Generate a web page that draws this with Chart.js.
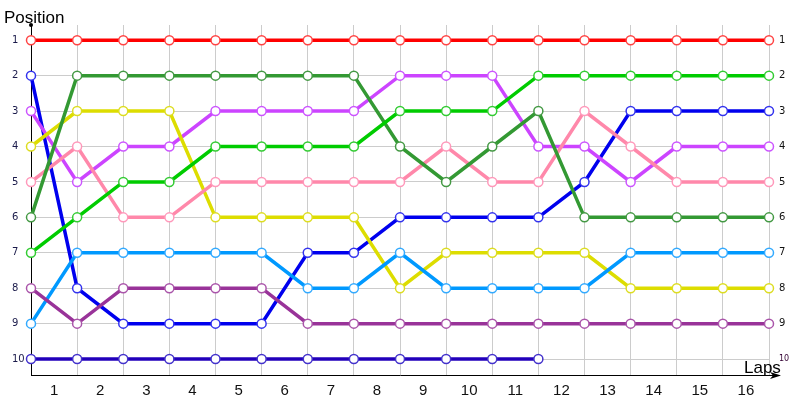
<!DOCTYPE html>
<html>
<head>
<meta charset="utf-8">
<script src="https://cdn.jsdelivr.net/npm/chart.js@4"></script>
<style>
  html, body { margin: 0; padding: 0; background: #fff; }
  #wrap { width: 800px; height: 400px; }
</style>
</head>
<body>
<div id="wrap"><canvas id="chart" width="800" height="400"></canvas></div>
<script>
// points along the x axis (start + 16 laps) and the lap labels between them
const lapPoints = ['0', '1', '2', '3', '4', '5', '6', '7', '8', '9', '10', '11', '12', '13', '14', '15', '16'];
const lapLabels = ['1', '2', '3', '4', '5', '6', '7', '8', '9', '10', '11', '12', '13', '14', '15', '16'];
const positionTicks = [1, 2, 3, 4, 5, 6, 7, 8, 9, 10];

// position of each driver after every lap
const redPos       = [1, 1, 1, 1, 1, 1, 1, 1, 1, 1, 1, 1, 1, 1, 1, 1, 1];
const bluePos      = [2, 8, 9, 9, 9, 9, 7, 7, 6, 6, 6, 6, 5, 3, 3, 3, 3];
const violetPos    = [3, 5, 4, 4, 3, 3, 3, 3, 2, 2, 2, 4, 4, 5, 4, 4, 4];
const yellowPos    = [4, 3, 3, 3, 6, 6, 6, 6, 8, 7, 7, 7, 7, 8, 8, 8, 8];
const pinkPos      = [5, 4, 6, 6, 5, 5, 5, 5, 5, 4, 5, 5, 3, 4, 5, 5, 5];
const darkGreenPos = [6, 2, 2, 2, 2, 2, 2, 2, 4, 5, 4, 3, 6, 6, 6, 6, 6];
const greenPos     = [7, 6, 5, 5, 4, 4, 4, 4, 3, 3, 3, 2, 2, 2, 2, 2, 2];
const purplePos    = [8, 9, 8, 8, 8, 8, 9, 9, 9, 9, 9, 9, 9, 9, 9, 9, 9];
const skyPos       = [9, 7, 7, 7, 7, 7, 8, 8, 7, 8, 8, 8, 8, 7, 7, 7, 7];
const navyPos      = [10, 10, 10, 10, 10, 10, 10, 10, 10, 10, 10, 10];

function series(data, color, marker) {
    return {
        data: data,
        borderColor: color,
        borderWidth: 3.5,
        pointRadius: 4.5,
        pointHoverRadius: 4.5,
        pointBackgroundColor: '#ffffff',
        pointBorderColor: marker,
        pointBorderWidth: 1.5,
        tension: 0,
        fill: false
    };
}

function isLast(ctx) {
    return ctx && ctx.tick && ctx.tick.value === 10;
}

// draws the titles, the dot at the top of the y axis and the arrow of the x axis
const decorations = {
    id: 'decorations',
    afterDraw(chart) {
        const c = chart.ctx;
        const area = chart.chartArea;
        c.save();
        c.fillStyle = '#000';
        c.strokeStyle = '#000';
        c.lineWidth = 1;
        c.beginPath();
        c.moveTo(area.right, area.bottom + 0.5);
        c.lineTo(776, area.bottom + 0.5);
        c.stroke();
        c.beginPath();
        c.moveTo(781, area.bottom + 0.5);
        c.lineTo(770, area.bottom - 3);
        c.lineTo(773, area.bottom + 0.5);
        c.lineTo(770, area.bottom + 4);
        c.closePath();
        c.fill();
        c.beginPath();
        c.arc(area.left, area.top, 2, 0, Math.PI * 2);
        c.fill();
        c.font = '17px "Liberation Sans", Arial, sans-serif';
        c.textBaseline = 'alphabetic';
        c.textAlign = 'left';
        c.fillText('Position', 4, 23);
        c.fillText('Laps', 744, 373);
        c.restore();
    }
};

new Chart(document.getElementById('chart'), {
    type: 'line',
    data: {
        labels: lapPoints,
        datasets: [
            series(navyPos, '#2200bb', '#4433cc'),
            series(purplePos, '#993399', '#aa55aa'),
            series(skyPos, '#0099ff', '#33aaff'),
            series(greenPos, '#00cc00', '#33cc33'),
            series(darkGreenPos, '#339933', '#449944'),
            series(pinkPos, '#ff88aa', '#ff99bb'),
            series(yellowPos, '#dddd00', '#dddd22'),
            series(violetPos, '#cc44ff', '#cc55ff'),
            series(bluePos, '#0000ee', '#3333ee'),
            series(redPos, '#ff0000', '#ff4444')
        ]
    },
    options: {
        responsive: false,
        animation: false,
        layout: { padding: { top: 25, left: 12, right: 0, bottom: 0 } },
        plugins: {
            legend: { display: false },
            tooltip: { enabled: false }
        },
        scales: {
            x: {
                type: 'category',
                position: 'bottom',
                offset: false,
                grid: { color: '#cccccc', drawTicks: false },
                border: { color: '#000000', width: 1 },
                ticks: { display: false },
                afterFit(scale) { scale.height = 0; }
            },
            laps: {
                type: 'category',
                position: 'bottom',
                labels: lapLabels,
                offset: true,
                grid: { display: false },
                border: { display: false },
                ticks: {
                    color: '#111111',
                    padding: -1,
                    maxRotation: 0,
                    autoSkip: false,
                    font: { family: 'Liberation Sans', size: 15 }
                },
                afterFit(scale) { scale.height = 25; }
            },
            y: {
                type: 'linear',
                position: 'left',
                reverse: true,
                min: 0.57,
                max: 10.45,
                afterBuildTicks(scale) {
                    scale.ticks = positionTicks.map(v => ({ value: v }));
                },
                grid: { color: '#cccccc', drawTicks: false },
                border: { color: '#000000', width: 1 },
                ticks: {
                    color: '#1a1a4a',
                    padding: 10,
                    crossAlign: 'far',
                    font: { family: 'DejaVu Sans', size: 10 }
                },
                afterFit(scale) { scale.width = 19; }
            },
            yRight: {
                type: 'linear',
                position: 'right',
                reverse: true,
                min: 0.57,
                max: 10.45,
                afterBuildTicks(scale) {
                    scale.ticks = positionTicks.map(v => ({ value: v }));
                },
                grid: { display: false },
                border: { display: false },
                ticks: {
                    color: function (ctx) { return isLast(ctx) ? '#330033' : '#111111'; },
                    padding: 2,
                    font: function (ctx) {
                        return isLast(ctx)
                            ? { family: 'DejaVu Sans', size: 8 }
                            : { family: 'DejaVu Sans', size: 10 };
                    }
                },
                afterFit(scale) { scale.width = 31; }
            }
        }
    },
    plugins: [decorations]
});
</script>
</body>
</html>
